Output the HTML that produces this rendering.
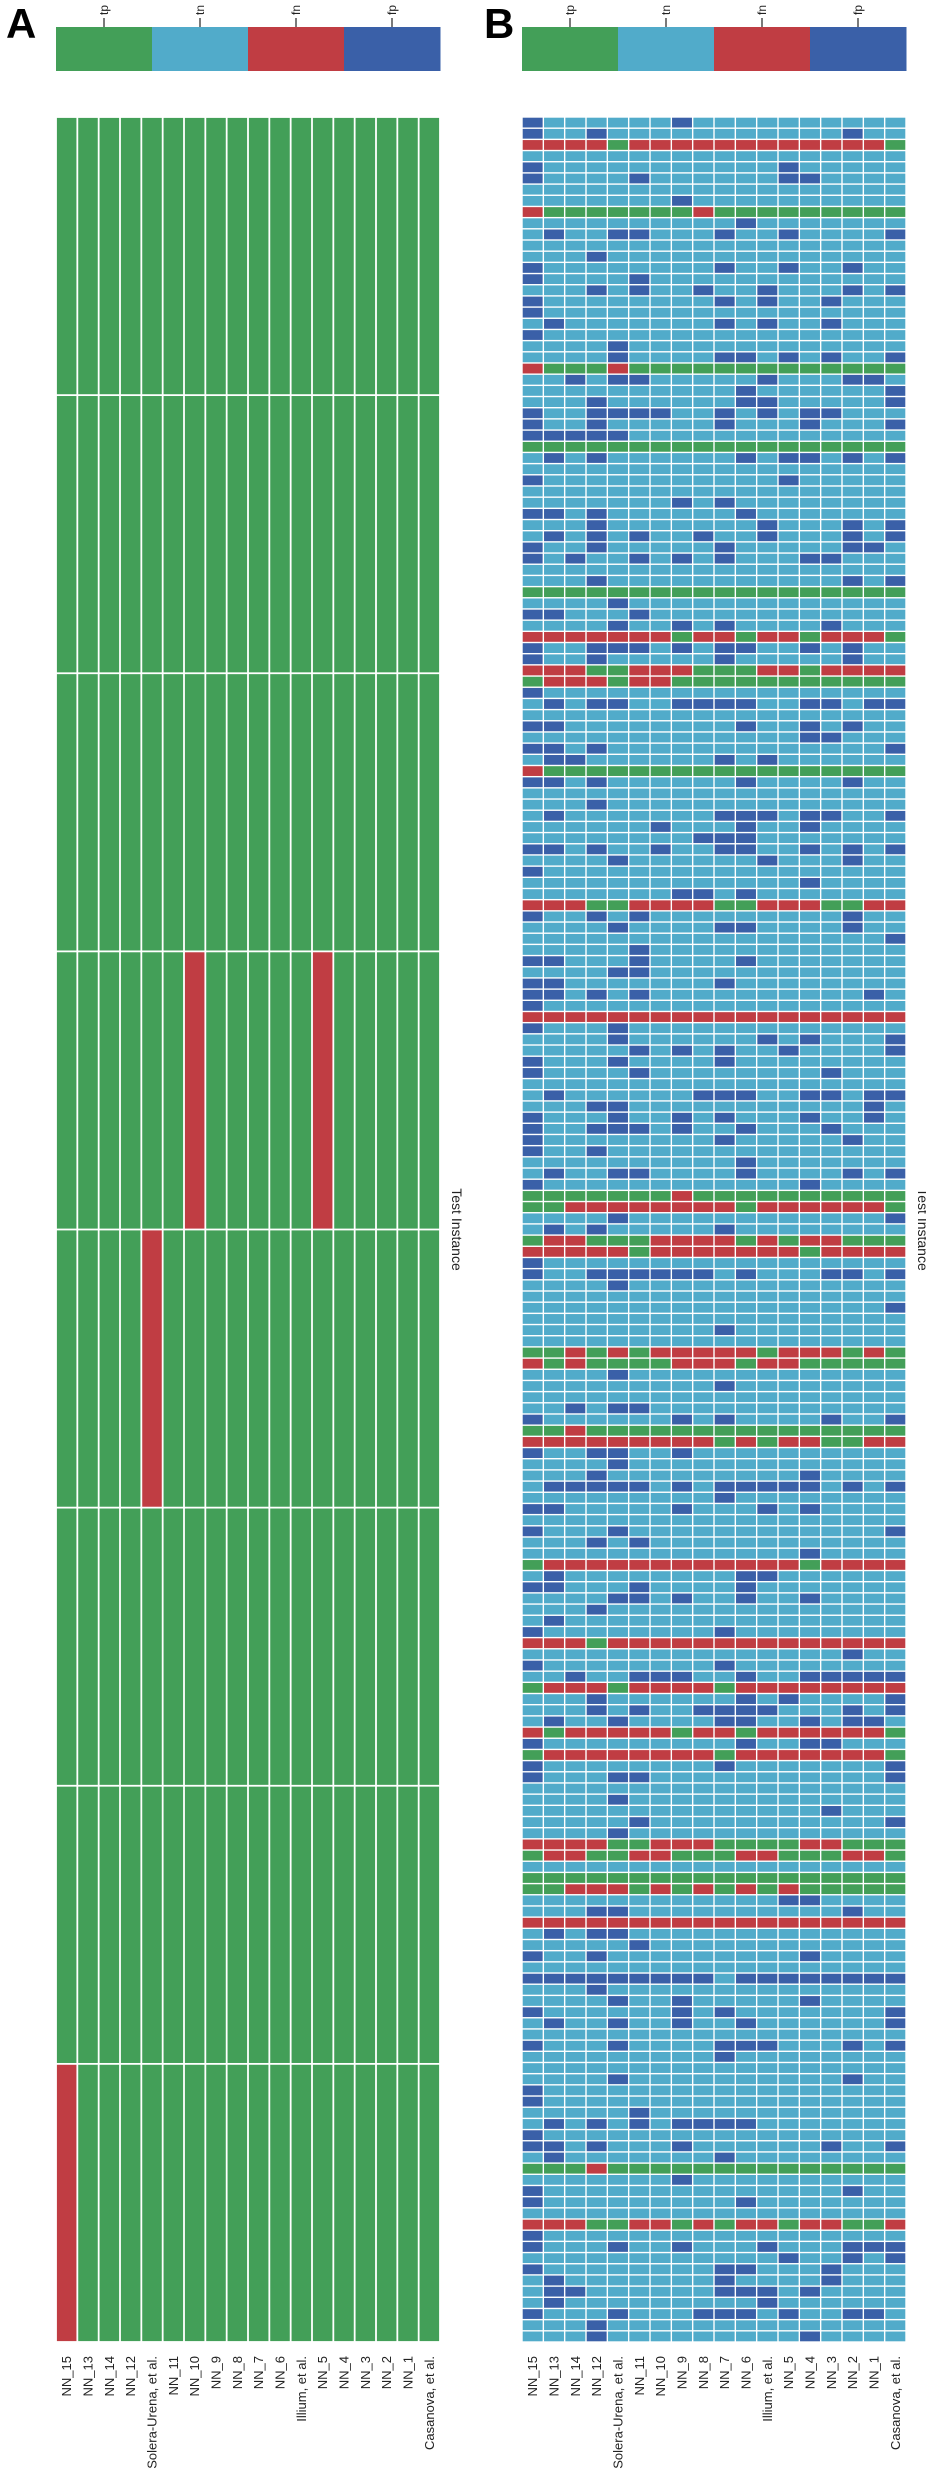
<!DOCTYPE html>
<html>
<head>
<meta charset="utf-8">
<style>
html,body{margin:0;padding:0;background:#fff;}
svg{display:block;font-family:"Liberation Sans",Arial,sans-serif;}
</style>
</head>
<body>
<svg id="chart" width="926" height="2491" viewBox="0 0 926 2491" xmlns="http://www.w3.org/2000/svg">
  <text x="6" y="38" font-size="42" font-weight="bold">A</text>
  <text x="484" y="38" font-size="42" font-weight="bold">B</text>
  <g id="panelA"></g>
  <g id="panelB"></g>
</svg>
<script>
const columnLabels = ["NN_15","NN_13","NN_14","NN_12","Solera-Urena, et al.","NN_11","NN_10","NN_9","NN_8","NN_7","NN_6","Illium, et al.","NN_5","NN_4","NN_3","NN_2","NN_1","Casanova, et al."];
const legendCategories = ["tp","tn","fn","fp"];
const legendCodes = ["g","c","r","b"];
const panelARows = [
"gggggggggggggggggg",
"gggggggggggggggggg",
"gggggggggggggggggg",
"ggggggrgggggrggggg",
"ggggrggggggggggggg",
"gggggggggggggggggg",
"gggggggggggggggggg",
"rggggggggggggggggg"
];
const panelBRows = [
"bccccccbcccccccccc","bccbcccccccccccbcc","rrrrgrrrrrrrrrrrrg","cccccccccccccccccc","bcccccccccccbccccc",
"bccccbccccccbbcccc","cccccccccccccccccc","cccccccbcccccccccc","rgggggggrggggggggg","ccccccccccbccccccc",
"cbccbbcccbccbccccb","cccccccccccccccccc","cccbcccccccccccccc","bccccccccbccbccbcc","bccccbcccccccccccc",
"cccbcbccbccbcccbcb","bccccccccbcbccbccc","bccccccccccccccccc","cbcccccccbcbccbccc","bccccccccccccccccc",
"ccccbccccccccccccc","ccccbccccbbcbcbccb","rgggrggggggggggggg","ccbcbbcccccbcccbbc","ccccccccccbccccccb",
"cccbccccccbbcccccb","bccbbbbccbcbcbbccc","bccbcccccbcccbcccb","bbbbbccccccccccccc","gggggggggggggggggg",
"cbcbccccccbcbbcbcb","cccccccccccccccccc","bcccccccccccbccccc","cccccccccccccccccc","cccccccbcbcccccccc",
"bbcbccccccbccccccc","cccbcccccccbcccbcb","cbcbcbccbccbcccbcb","bccbcccccbcccccbbc","bcbccbcbcbcccbbccc",
"cccccccccccccccccc","cccbcccccccccccbcb","gggggggggggggggggg","ccccbccccccccccccc","bbcccbcccccccccccc",
"ccccbccbcbccccbccc","rrrrrrrgrrgrrgrrrg","bccbbbcbcbbccbcbcc","bccbcccccbcccccbcc","rrrggrrrgggrrgrrrr",
"grrrgrrggggggggggg","bccccccccccccccccc","cbcbbccbbbbccbbcbb","cccccccccccccccccc","bbccccccccbccbcbcc",
"cccccccccccccbbccc","bbcbcccccccccccccb","cbbccccccbcbcccccc","rggggggggggggggggg","bbcbccccccbccccbcc",
"cccccccccccccccccc","cccbcccccccccccccc","cbcccccccbbbcbbccb","ccccccbcccbccbcccc","ccccccccbbbccccccc",
"bbcbccbccbbccbcbcb","ccccbccccccbcccbcc","bccccccccccccccccc","cccccccccccccbcccc","cccccccbbcbccccccc",
"rrrggrrrrggrrrggrr","bccbcbcccccccccbcc","ccccbccccbbccccbcc","cccccccccccccccccb","cccccbcccccccccccc",
"bbcccbccccbccccccc","ccccbbcccccccccccc","bbcccccccbcccccccc","bbcbcbccccccccccbc","bccccccccccccccccc",
"rrrrrrrrrrrrrrrrrr","bcccbccccccccccccc","ccccbccccccbcbcccb","cccccbcbcbccbccccb","bcccbccccbcccccccc",
"bccccbccccccccbccc","cccccccccccccccccc","cbccccccbbbccbbcbb","cccbbcccccccccccbc","bcccbccbcbcccbccbc",
"bccbbbcbccbcccbccc","bccccccccbcccccbcc","bccbcccccccccccccc","ccccccccccbccccccc","cbccbbccccbccccbcb",
"bccccccccccccbcccc","gggggggrgggggggggg","ggrrrrrrrrgrrrrrrg","ccccbccccccccccccb","cbcbcccccbcccccccc",
"grrgggrrrrgrgrrggg","rrrrrgrrrrrrrgrrrr","bccccccccccccccccc","bccbbbbbbcbcccbbcb","ccccbccccccccccccc",
"cccccccccccccccccc","cccccccccccccccccb","cccccccccccccccccc","cccccccccbcccccccc","cccccccccccccccccc",
"ggrgrgrrrrrgrrrgrg","rgrggggrrrgrrggggg","ccccbccccccccccccc","cccccccccbcccccccc","cccccccccccccccccc",
"ccbcbbcccccccccccc","bccccccbcbccccbccb","ggrggggggggggggggg","rrrrrrrrrgrgrrggrr","bccbbccbcccccccccc",
"ccccbccccccccccccc","cccbcccccccccbcccc","cbbbbbcbcbbbbbcbcb","cccccccccbcccccccc","bbcccccbcccbcbcccc",
"cccccccccccccccccc","bcccbccccccccccccb","cccbcbcccccccccccc","cccccccccccccbcccc","grrrrrrrrrrrrgrrrr",
"cbccccccccbbcccccc","bbcccbccccbccccccc","ccccbbcbccbccbcccc","cccbcccccccccccccc","cbcccccccccccccccc",
"bccccccccbcccccccc","rrrgrrrrrrrrrrrrrr","cccccccccccccccbcc","bccccccccbcccccccc","ccbccbbbccbccbbbbb",
"grrrgrrrrgrrrrrrrr","cccbccccccbcbccccb","cccbcbccbbbbcccbcb","cbccbccccbbccbcbbc","rgrrrrrgrrgrrrrrrg",
"bcccccccccbccbbccc","grrrrrrrrgrrrrrrrg","bccccccccbcccccccb","bcccbbcccccccccccb","cccccccccccccccccc",
"ccccbccccccccccccc","ccccccccccccccbccc","cccccbcccccccccccb","ccccbccccccccccccc","rrrrggrrrggggrrggg",
"grrggrrgggrrgggrrg","cccccccccccccccccc","gggggggggggggggggg","ggrrrgrgrgrgrggggg","ccccccccccccbbcccc",
"cccbbccccccccccbcc","rrrrrrrrrrrrrrrrrr","cbcbbccccccccccccc","cccccbcccccccccccc","bccbcccccccccbcccc",
"cccccccccccccccccc","bbbbbbbbbcbbbbbbbb","cccbcccccccccccccc","ccccbccbcccccbcccc","bccccccbcbcccccccb",
"cbccbccbccbccccccb","cccccccccccccccccc","bcccbccccbbbcccbcb","cccccccccbcccccccc","cccccccccccccccccc",
"ccccbccccccccccbcc","bccccccccccccccccc","bccccccccccccccccc","cccccbcccccccccccc","cbcbcbcbbbbccccccc",
"bccccccccccccccccc","bbcbcccbccccccbccb","cbcccccccbcccccccc","gggrgggggggggggggg","cccccccbcccccccccc",
"bccccccccccccccbcc","bcccccccccbccccccc","cccccccccccccccccc","rrrggrrgrgrrgrrggr","bccccccccccccccccc",
"bcccbccbcccbcccbbb","ccccccccccccbccbcb","bccccccccbbcccbccc","cbcccccccbccccbccc","cbbccccccbbbcbcccc",
"cbcccccccccbcccccc","bcccbcccbbbcbccbbc","cccbcccccccccccccc","cccbcccccccccbcccc"
];

const NS = "http://www.w3.org/2000/svg";
const colorMap = {g:"#439f58", c:"#51abca", r:"#c03d43", b:"#3a60a8"};
const nameMap = {g:"tp", c:"tn", r:"fn", b:"fp"};
const heatTop = 117, heatBottom = 2342;
const legendTop = 27, legendBottom = 71;

function mk(tag, attrs, parent){
  const el = document.createElementNS(NS, tag);
  for (const k in attrs) el.setAttribute(k, attrs[k]);
  parent.appendChild(el);
  return el;
}

function drawPanel(group, rows, x0, x1, prefix){
  const nCols = columnLabels.length;
  const cw = (x1 - x0) / nCols;
  const xScale = i => x0 + i * cw;
  const rh = (heatBottom - heatTop) / rows.length;
  const yScale = j => heatTop + j * rh;

  // legend bar
  const lw = (x1 - x0) / legendCategories.length;
  legendCategories.forEach((cat, k) => {
    const r = mk("rect", {x: x0 + k*lw, y: legendTop, width: lw + 0.5, height: legendBottom - legendTop, fill: colorMap[legendCodes[k]]}, group);
    
    
    const cx = x0 + k*lw + lw/2;
    const t = mk("line", {x1: cx, x2: cx, y1: 18, y2: legendTop, stroke: "#222", "stroke-width": 1.2}, group);
    
    
    const tx = mk("text", {x: cx + 4, y: 15, "font-size": 12, "text-anchor": "start", fill: "#222", transform: "rotate(-90 " + (cx + 4) + " 15)"}, group);
    tx.textContent = cat;
    
    
  });

  // cells
  const gap = rows.length > 20 ? 1.4 : 1.8;
  rows.forEach((row, j) => {
    for (let i = 0; i < nCols; i++) {
      const code = row[i] || "c";
      const r = mk("rect", {
        x: xScale(i) + gap/2, y: yScale(j) + gap/2,
        width: cw - gap, height: rh - gap, fill: colorMap[code]
      }, group);
      
      
    }
  });

  // x labels
  columnLabels.forEach((lab, i) => {
    const cx = xScale(i) + cw/2 + 4.5;
    const t = mk("text", {x: cx, y: 2356, "font-size": 13, "text-anchor": "end", fill: "#222", transform: "rotate(-90 " + cx + " 2356)"}, group);
    t.textContent = lab;
    
    
  });

  // y title
  const yx = x1 + 12, yy = (heatTop + heatBottom)/2;
  const yt = mk("text", {x: yx, y: yy, "font-size": 14, "text-anchor": "middle", fill: "#222", transform: "rotate(90 " + yx + " " + yy + ")"}, group);
  yt.textContent = "Test Instance";
  
  
}

drawPanel(document.getElementById("panelA"), panelARows, 56, 440, "panel-a");
drawPanel(document.getElementById("panelB"), panelBRows, 522, 906, "panel-b");
</script>
</body>
</html>
